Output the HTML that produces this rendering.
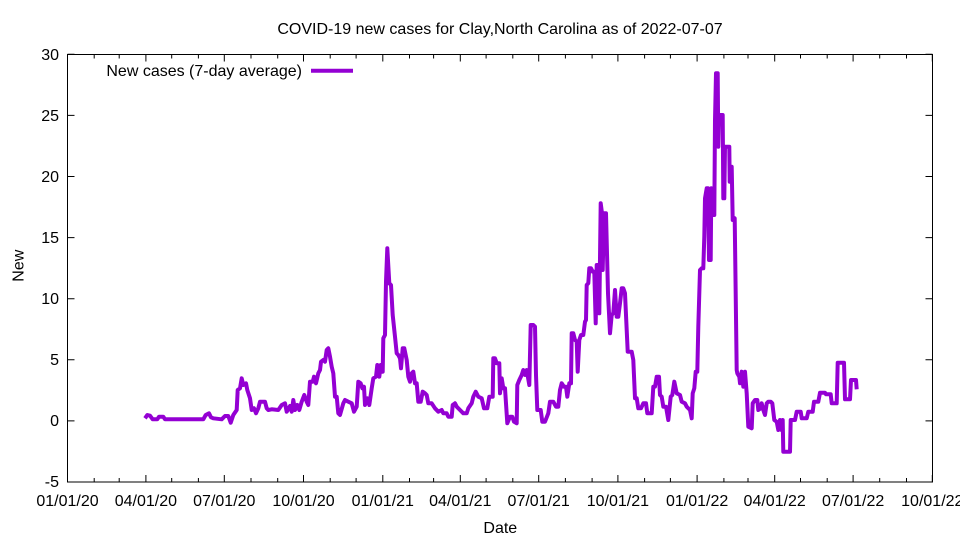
<!DOCTYPE html>
<html><head><meta charset="utf-8"><style>html,body{margin:0;padding:0;background:#fff}svg{display:block}text{font-family:"Liberation Sans",Arial,sans-serif;fill:#000}</style></head><body>
<svg width="960" height="540" viewBox="0 0 960 540" xmlns="http://www.w3.org/2000/svg">
<rect x="0" y="0" width="960" height="540" fill="#fff"/>
<text x="500" y="34" font-size="16" text-anchor="middle">COVID-19 new cases for Clay,North Carolina as of 2022-07-07</text>
<g stroke="#000" stroke-width="1" fill="none">
<rect x="67.5" y="54.5" width="865" height="427.5"/>
<path d="M67.5 54.3h7M67.5 115.4h7M67.5 176.5h7M67.5 237.6h7M67.5 298.7h7M67.5 359.8h7M67.5 420.9h7M67.5 482h7"/>
<path d="M932.5 54.3h-7M932.5 115.4h-7M932.5 176.5h-7M932.5 237.6h-7M932.5 298.7h-7M932.5 359.8h-7M932.5 420.9h-7M932.5 482h-7"/>
<path d="M67.5 482v-7M145.9 482v-7M224.3 482v-7M303.5 482v-7M382.8 482v-7M460.3 482v-7M538.7 482v-7M617.9 482v-7M697.1 482v-7M774.7 482v-7M853.1 482v-7M932.3 482v-7"/>
<path d="M67.5 54.5v7M145.9 54.5v7M224.3 54.5v7M303.5 54.5v7M382.8 54.5v7M460.3 54.5v7M538.7 54.5v7M617.9 54.5v7M697.1 54.5v7M774.7 54.5v7M853.1 54.5v7M932.3 54.5v7"/>
<path d="M94.2 482v-4M119.2 482v-4M171.7 482v-4M198.4 482v-4M251 482v-4M277.7 482v-4M330.2 482v-4M356.1 482v-4M409.5 482v-4M433.6 482v-4M486.1 482v-4M512.8 482v-4M565.4 482v-4M592.1 482v-4M644.6 482v-4M670.4 482v-4M723.9 482v-4M748 482v-4M800.5 482v-4M827.2 482v-4M879.7 482v-4M906.5 482v-4"/>
<path d="M94.2 54.5v4M119.2 54.5v4M171.7 54.5v4M198.4 54.5v4M251 54.5v4M277.7 54.5v4M330.2 54.5v4M356.1 54.5v4M409.5 54.5v4M433.6 54.5v4M486.1 54.5v4M512.8 54.5v4M565.4 54.5v4M592.1 54.5v4M644.6 54.5v4M670.4 54.5v4M723.9 54.5v4M748 54.5v4M800.5 54.5v4M827.2 54.5v4M879.7 54.5v4M906.5 54.5v4"/>
</g>
<g font-size="16" text-anchor="end">
<text x="59" y="60">30</text>
<text x="59" y="121">25</text>
<text x="59" y="182">20</text>
<text x="59" y="243">15</text>
<text x="59" y="304">10</text>
<text x="59" y="365">5</text>
<text x="59" y="426">0</text>
<text x="59" y="487">-5</text>
</g>
<g font-size="16" text-anchor="middle">
<text x="67.5" y="506">01/01/20</text>
<text x="145.9" y="506">04/01/20</text>
<text x="224.3" y="506">07/01/20</text>
<text x="303.5" y="506">10/01/20</text>
<text x="382.8" y="506">01/01/21</text>
<text x="460.3" y="506">04/01/21</text>
<text x="538.7" y="506">07/01/21</text>
<text x="617.9" y="506">10/01/21</text>
<text x="697.1" y="506">01/01/22</text>
<text x="774.7" y="506">04/01/22</text>
<text x="853.1" y="506">07/01/22</text>
<text x="932.3" y="506">10/01/22</text>
<text x="500.3" y="533">Date</text>
<text transform="translate(23.3,265.7) rotate(-90)" x="0" y="0">New</text>
</g>
<text x="302" y="76" font-size="16" text-anchor="end">New cases (7-day average)</text>
<path d="M311 70.7H353" stroke="#9400d3" stroke-width="4" fill="none"/>
<polyline fill="none" stroke="#9400d3" stroke-width="4" stroke-linejoin="round" points="
145,418.3 147.3,415 150,415.7 152.7,419.3 157.3,419.3 159,416.7 163.3,416.7 165,419.3 203.3,419.3 205.7,415 209,413.3 211,417.3 213.3,418.3 221.7,419.3 225,416 228.3,416 230.7,422.7 233.3,415 236.7,410 237.7,390 240,388.3 241.7,378.3 243.3,385 246,383.3 247.3,390 250,398.3 251.7,410 254,408.3 256,413.3 258.3,408.3 260,401.7 265,401.7 266.7,408.3 268.3,410 271.7,409.3 278.3,410 281.7,405 285,403.3 286.7,411.7 290,406 291.7,411.7 293.3,400 295,410 297.3,405 299.3,410 301.7,401.7 304.3,395 306.7,401.7 308.3,405 310,381.7 312.7,381.7 314,376.7 316,383.3 318.3,373.3 320,370 321,361.7 323.3,360 325,361.7 326.7,350 328.3,348.3 330,356.7 331.7,366.7 333.3,373.3 335,396.7 336.7,396.7 338.3,413.3 340,415
343.3,403.3 345,400 348.3,401.7 351.7,403.3 354,411.7 356.7,406.7 358.3,381.7 360.7,383.3 362.3,388.3 364,386.7 365,405 367.3,398.3 369.3,405 371.7,388.3 373.3,378.3 376,376.7 377.3,365 379.3,376.7 380.7,365 382.7,371.7 383.3,338.3 385,335 386,281.7 387.3,248.3 389.3,283.3 391,285 392.7,315 395,336.7 396.7,353.3 398.3,355 400,358.3 401,368.3 402.7,348.3 404.3,348.3 406.7,360 408.3,376.7 410,381.7 411.7,373.3 413.3,371.7 415,383.3 416.7,383.3 418.3,401.7 420.7,401.7 422.7,391.7 425,393.3 426.7,395 428.3,403.3 431.7,403.3 435,408.3 438.3,411.7 441.7,410 443.3,413.3 446.7,413.3 448.3,416.7 451.7,416.7 452.7,405 455,403.3 456.7,406.7 460,410 463.3,413.3 466.7,413.3 468.3,408.3 471.7,403.3 473.3,396.7 475.7,391.7 478.3,396.7 481.7,398.3 484,408.3 487.3,408.3 489.3,396.7
492.7,396.7 493.3,358.3 495,358.3 496.7,363.3 499.3,363.3 500,393.3 501.7,378.3 503.3,388.3 505,388.3 507.3,423.3 510,416.7 512.3,416.7 514,421.7 516.7,423.3 517.3,385 519.3,380 521.7,375 523.3,370 525,375 526.7,370 529.3,385 530.7,325 533.3,325 535,326.7 536,375 537.3,410 540.7,410 542.3,421.7 545,421.7 548.3,413.3 550,401.7 553.3,401.7 556,406.7 558.3,406.7 560,390 561.7,383.3 564,386.7 566,386.7 567.3,396.7 569.3,383.3 571,383.3 571.7,333.3 573.3,333.3 575,340 576.7,341.7 577.7,371.7 579.3,340 581,335 583.3,335 585,321.7 586,320 586.7,285 588.3,283.3 589.3,268.3 591,268.3 592.7,271.7 594.3,271.7 595.7,323.3 596.7,265 598.3,265 599.3,313.3 600.7,203.3 602,213.3 602.7,270 604,213.3 606,213.3 608,293.3 610,333.3 611.7,315 613.3,313.3 615,290 616.7,316.7 618.3,316.7 620,303.3 621.7,288.3 623.3,288.3 625,293.3 626.7,330 627.7,351.7 631.7,351.7 633.3,360 635,398.3 636.7,398.3 638.3,408.3 641,408.3
643.3,403.3 646,403.3 647.3,413.3 651.7,413.3 653.3,386.7 655,386.7 656.7,376.7 659,376.7 660,395 661.7,396.7 663.3,406.7 666,406.7 668.3,420 670.7,396.7 672.3,395 674.3,381.7 676.7,393.3 680,395 681.7,401.7 685,403.3 686.7,406.7 690,410 691.7,418.3 692.7,393.3 694.3,388.3 695.7,371.7 697.3,371.7 698.3,326.7 700,270 701.7,268.3 703.3,268.3 704.3,236.7 705,198.3 706.7,188.3 708,188.3 709,260 710.7,260 711.3,188.3 712.7,200 713.3,215 714.3,215 715,120 716,73.3 717.7,73.3 718.3,146.7 719,115 722.7,115 723.3,198.3 724.3,198.3 725,146.7 729.3,146.7 729.7,181.7 730,166.7 731.7,166.7 732.7,220 734.7,218.3 736.7,370 737.3,373.3 739.3,376.7 740,383.3 741.7,371.7 743.3,386.7 745,371.7 746.7,393.3 748.3,426.7 751.7,428.3 752.7,403.3 755,400 757.3,400 758.3,410 760.7,408.3 761.7,403.3 763.3,410 765,415 766.7,403.3 768.3,401.7 770.7,401.7 772.3,403.3 774.3,420 776.7,421.7 778.3,430 780,420 781.7,430 782.7,420 783.3,451.7 790,451.7 790.7,420 795,420 796.7,411.7 800.7,411.7 801.7,418.3 806.7,418.3 808.3,411.7 812.7,411.7 814,401.7 818.3,401.7 820,392.7 825,392.7 826,394.3 830.7,394.3 831.7,403.3 836.7,403.3 837.7,362.7 844,362.7 845,399.3 850,399.3 851,380 856,380 856.7,389.3"/>
</svg>
</body></html>
